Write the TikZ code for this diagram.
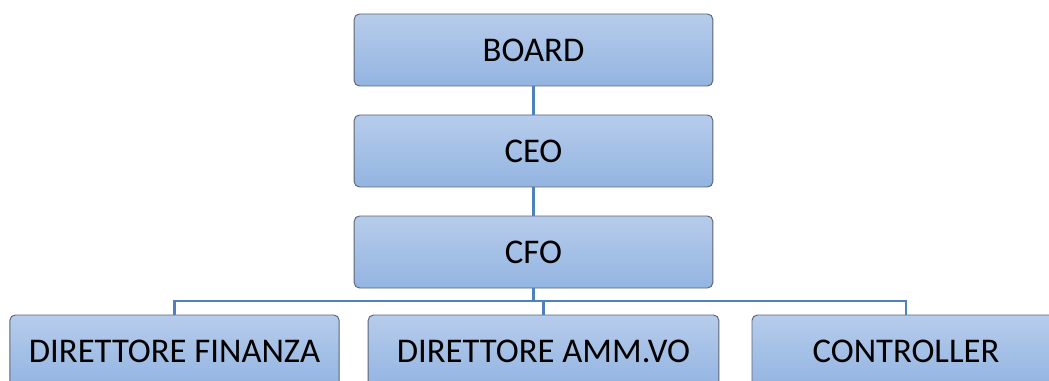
\documentclass[tikz,border=0pt]{standalone}
\usepackage{fontspec}
\setmainfont{Carlito}
\usetikzlibrary{positioning}
\definecolor{boxtop}{RGB}{183,204,235}
\definecolor{boxbot}{RGB}{147,180,225}
\definecolor{boxline}{RGB}{90,100,115}
\definecolor{linkblue}{RGB}{79,129,189}
\tikzset{
    orgbox/.style={draw=boxline, line width=0.7pt, rectangle, rounded corners=4pt, top color=boxtop, bottom color=boxbot, minimum height=54pt, align=center, font=\fontsize{26}{30}\selectfont},
    orglink/.style={draw=linkblue, line width=2pt}
}
\begin{document}
\begin{tikzpicture}[x=0.75pt, y=-0.75pt]
    \useasboundingbox (0,0) rectangle (1049,381);
    \clip (0,0) rectangle (1049,381);
    % Nodes
    \node (board) [orgbox, minimum width=269pt] at (533.5,50) {BOARD};
    \node (ceo) [orgbox, minimum width=269pt, below of=board, node distance=75.75pt] {CEO};
    \node (cfo) [orgbox, minimum width=269pt, below of=ceo, node distance=75.75pt] {CFO};
    \node (fin) [orgbox, minimum width=247pt] at (174.5,351) {DIRETTORE FINANZA};
    \node (amm) [orgbox, minimum width=263pt] at (543.5,351) {DIRETTORE AMM.VO};
    \node (ctrl) [orgbox, minimum width=231pt] at (906,351) {CONTROLLER};
    \coordinate (bus) at (533.5,301);

    % Edges
    \draw[orglink] (board) -- (ceo);
    \draw[orglink] (ceo) -- (cfo);
    \draw[orglink] (cfo) -- (bus);
    \draw[orglink] (bus) -| (fin);
    \draw[orglink] (bus) -| (amm);
    \draw[orglink] (bus) -| (ctrl);
\end{tikzpicture}
\end{document}
